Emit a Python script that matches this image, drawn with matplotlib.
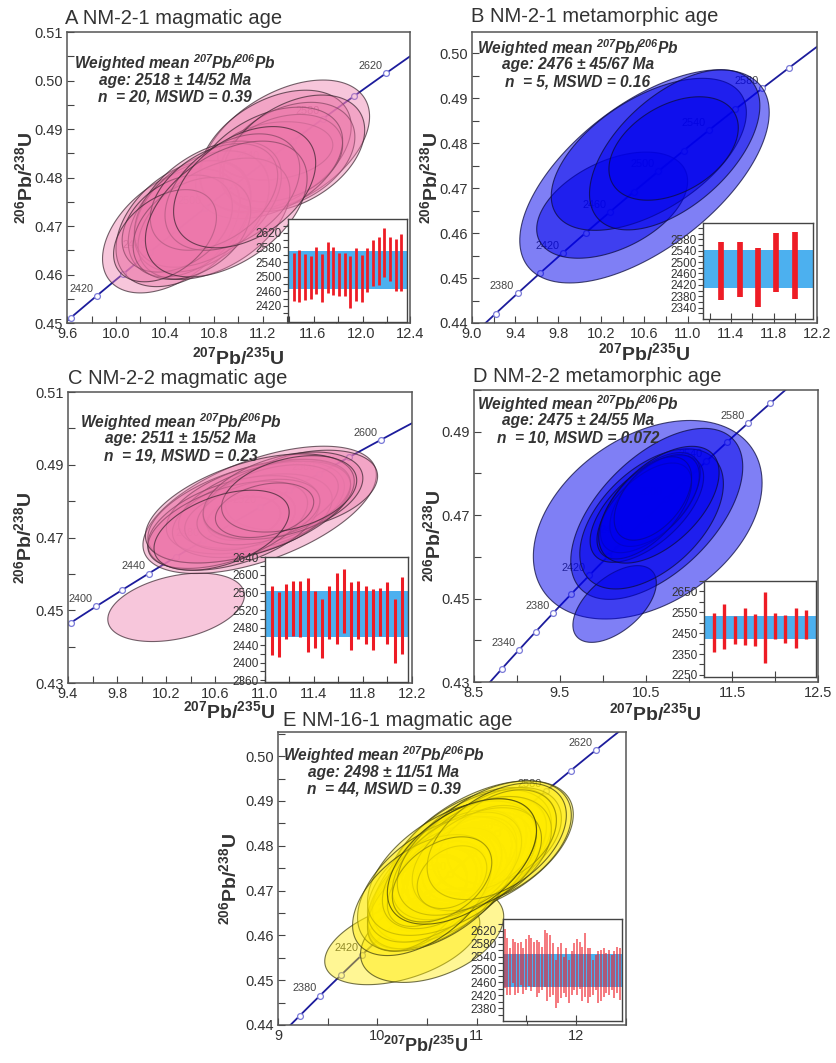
import matplotlib
matplotlib.use("Agg")
import matplotlib.pyplot as plt
import numpy as np
from matplotlib.patches import Polygon

plt.rcParams['font.family'] = ['Liberation Sans', 'DejaVu Sans']
plt.rcParams['mathtext.fontset'] = 'custom'
plt.rcParams['mathtext.rm'] = 'Liberation Sans'
plt.rcParams['mathtext.it'] = 'Liberation Sans:italic'
plt.rcParams['mathtext.bf'] = 'Liberation Sans:bold'
plt.rcParams['mathtext.bfit'] = 'Liberation Sans:italic:bold'

# decay constants (1/yr)
L235 = 9.8485e-10
L238 = 1.55125e-10

# ---- panel A: NM-2-1 magmatic ----
a_cx = [11.38, 11.30, 11.40, 11.30, 11.35, 11.25, 11.45, 10.45, 10.55, 10.60,
        10.70, 10.75, 10.80, 10.50, 10.62, 10.80, 10.95, 10.40, 10.90, 11.05]
a_cy = [0.4864, 0.4855, 0.4845, 0.4855, 0.4840, 0.4830, 0.4850, 0.4690, 0.4705, 0.4715,
        0.4730, 0.4745, 0.4715, 0.4705, 0.4695, 0.4760, 0.4770, 0.4680, 0.4735, 0.4780]
a_hx = [0.69, 0.62, 0.55, 0.47, 0.50, 0.60, 0.58, 0.56, 0.55, 0.50,
        0.55, 0.60, 0.62, 0.45, 0.48, 0.52, 0.55, 0.42, 0.66, 0.58]
a_hy = [0.0137, 0.0125, 0.0110, 0.0060, 0.0090, 0.0115, 0.0120, 0.0128, 0.0130, 0.0120,
        0.0125, 0.0130, 0.0125, 0.0100, 0.0105, 0.0110, 0.0120, 0.0095, 0.0140, 0.0125]
a_rho = [0.45, 0.40, 0.35, 0.20, 0.30, 0.40, 0.40, 0.45, 0.40, 0.40,
         0.40, 0.45, 0.45, 0.35, 0.35, 0.40, 0.40, 0.40, 0.45, 0.40]
a_hi = [2564, 2574, 2563, 2556, 2581, 2562, 2594, 2580, 2564, 2564,
        2556, 2578, 2560, 2578, 2600, 2608, 2633, 2608, 2604, 2617]
a_lo = [2434, 2430, 2435, 2438, 2453, 2430, 2455, 2450, 2448, 2448,
        2414, 2434, 2430, 2457, 2475, 2478, 2498, 2487, 2461, 2461]

# ---- panel B: NM-2-1 metamorphic ----
b_cx = [10.60, 10.30, 10.64, 10.88, 10.87]
b_cy = [0.4726, 0.4662, 0.4775, 0.4785, 0.4788]
b_hx = [1.157, 0.70, 0.905, 0.79, 0.60]
b_hy = [0.0237, 0.0118, 0.0169, 0.0178, 0.0115]
b_rho = [0.60, 0.45, 0.55, 0.55, 0.40]
b_hi = [2569, 2569, 2548, 2602, 2605]
b_lo = [2366, 2378, 2342, 2396, 2371]

# ---- panel C: NM-2-2 magmatic ----
c_cx = [10.28, 10.96, 11.30, 10.85, 10.95, 11.00, 10.90, 10.83, 10.80, 11.05,
        10.75, 11.10, 10.95, 10.70, 11.15, 10.88, 11.00, 11.20, 10.65]
c_cy = [0.4508, 0.4776, 0.4830, 0.4770, 0.4785, 0.4790, 0.4760, 0.4752, 0.4750, 0.4800,
        0.4740, 0.4805, 0.4770, 0.4735, 0.4815, 0.4780, 0.4775, 0.4820, 0.4720]
c_hx = [0.556, 0.95, 0.62, 0.80, 0.75, 0.70, 0.65, 0.30, 0.45, 0.55,
        0.70, 0.60, 0.50, 0.65, 0.65, 0.85, 0.40, 0.55, 0.55]
c_hy = [0.0094, 0.0175, 0.0110, 0.0140, 0.0130, 0.0120, 0.0115, 0.0060, 0.0085, 0.0100,
        0.0130, 0.0110, 0.0090, 0.0120, 0.0120, 0.0150, 0.0075, 0.0105, 0.0110]
c_rho = [0.35, 0.55, 0.35, 0.50, 0.45, 0.45, 0.40, 0.25, 0.30, 0.40,
         0.45, 0.40, 0.35, 0.50, 0.40, 0.50, 0.30, 0.35, 0.45]
c_hi = [2575, 2561, 2579, 2586, 2586, 2593, 2564, 2546, 2576, 2604,
        2614, 2584, 2587, 2575, 2568, 2571, 2583, 2546, 2595]
c_lo = [2418, 2412, 2455, 2461, 2458, 2424, 2434, 2410, 2453, 2442,
        2467, 2430, 2453, 2442, 2430, 2461, 2442, 2399, 2420]

# ---- panel D: NM-2-2 metamorphic ----
d_cx = [10.52, 10.625, 10.135, 10.565, 10.51, 10.55, 10.60, 10.48, 10.58, 10.65]
d_cy = [0.4689, 0.4703, 0.4487, 0.4691, 0.4715, 0.4730, 0.4735, 0.4710, 0.4740, 0.4725]
d_hx = [1.33, 1.00, 0.485, 0.835, 0.66, 0.58, 0.52, 0.55, 0.45, 0.70]
d_hy = [0.0238, 0.0205, 0.0092, 0.0168, 0.0128, 0.0120, 0.0110, 0.0115, 0.0100, 0.0140]
d_rho = [0.37, 0.55, 0.55, 0.50, 0.60, 0.60, 0.55, 0.60, 0.50, 0.55]
d_hi = [2546, 2589, 2532, 2571, 2544, 2649, 2547, 2538, 2573, 2560]
d_lo = [2358, 2374, 2396, 2394, 2390, 2307, 2422, 2402, 2379, 2422]

# ---- panel E: NM-16-1 magmatic ----
e_cx = [10.25, 10.55, 11.05, 10.95, 10.90, 11.00, 10.80, 10.70, 10.60, 10.55,
        10.65, 10.75, 10.85, 11.10, 11.20, 10.50, 10.45, 10.70, 10.95, 11.15,
        10.60, 10.80, 10.90, 11.00, 10.40, 10.55, 10.75, 11.05, 10.85, 10.65,
        11.25, 10.50, 10.95, 10.70, 10.60, 11.10, 10.80, 10.45, 11.00, 10.90,
        10.75, 11.20, 10.65, 10.85]
e_cy = [0.4585, 0.4600, 0.4795, 0.4785, 0.4770, 0.4790, 0.4760, 0.4740, 0.4720, 0.4705,
        0.4715, 0.4735, 0.4750, 0.4800, 0.4815, 0.4690, 0.4680, 0.4725, 0.4765, 0.4805,
        0.4700, 0.4745, 0.4760, 0.4775, 0.4670, 0.4710, 0.4750, 0.4785, 0.4770, 0.4730,
        0.4820, 0.4700, 0.4780, 0.4735, 0.4715, 0.4795, 0.4755, 0.4690, 0.4770, 0.4775,
        0.4730, 0.4810, 0.4725, 0.4765]
e_hx = [0.78, 0.72, 0.92, 0.85, 0.80, 0.75, 0.70, 0.65, 0.55, 0.45,
        0.40, 0.50, 0.55, 0.60, 0.65, 0.60, 0.55, 0.75, 0.65, 0.80,
        0.70, 0.45, 0.50, 0.55, 0.50, 0.65, 0.85, 0.70, 0.60, 0.60,
        0.55, 0.40, 0.45, 0.55, 0.80, 0.50, 0.65, 0.70, 0.65, 0.70,
        0.35, 0.70, 0.50, 0.75]
e_hy = [0.0095, 0.0105, 0.0150, 0.0145, 0.0140, 0.0135, 0.0130, 0.0125, 0.0110, 0.0090,
        0.0080, 0.0100, 0.0105, 0.0110, 0.0115, 0.0120, 0.0115, 0.0140, 0.0120, 0.0140,
        0.0130, 0.0085, 0.0090, 0.0100, 0.0105, 0.0125, 0.0150, 0.0125, 0.0110, 0.0115,
        0.0105, 0.0080, 0.0085, 0.0105, 0.0150, 0.0095, 0.0120, 0.0135, 0.0115, 0.0130,
        0.0070, 0.0130, 0.0095, 0.0140]
e_rho = [0.45, 0.40, 0.50, 0.50, 0.50, 0.45, 0.50, 0.50, 0.45, 0.40,
         0.35, 0.40, 0.45, 0.40, 0.40, 0.50, 0.50, 0.50, 0.45, 0.45,
         0.50, 0.35, 0.35, 0.40, 0.50, 0.45, 0.50, 0.40, 0.40, 0.45,
         0.35, 0.40, 0.35, 0.45, 0.50, 0.35, 0.45, 0.50, 0.40, 0.45,
         0.30, 0.45, 0.40, 0.50]
e_hi = [2626, 2599, 2566, 2595, 2587, 2582, 2584, 2566, 2595, 2606,
        2597, 2587, 2592, 2587, 2571, 2624, 2613, 2608, 2582, 2530,
        2571, 2582, 2540, 2566, 2530, 2556, 2582, 2595, 2587, 2571,
        2613, 2566, 2566, 2530, 2546, 2556, 2561, 2568, 2551, 2561,
        2546, 2556, 2571, 2566]
e_lo = [2444, 2421, 2421, 2458, 2421, 2427, 2452, 2424, 2437, 2450,
        2432, 2447, 2416, 2427, 2437, 2447, 2401, 2416, 2421, 2380,
        2396, 2411, 2427, 2416, 2396, 2421, 2437, 2421, 2440, 2401,
        2416, 2396, 2416, 2421, 2437, 2396, 2401, 2416, 2427, 2421,
        2437, 2411, 2427, 2406]

W, H = 837, 1063
fig = plt.figure(figsize=(W / 100, H / 100), dpi=100)
TXT = '#333333'


def box(x0, y0, x1, y1):
    return [x0 / W, 1 - y1 / H, (x1 - x0) / W, (y1 - y0) / H]


def concordia(t):
    t = np.asarray(t, dtype=float) * 1e6
    return np.exp(L235 * t) - 1, np.exp(L238 * t) - 1


def ellipse_xy(cx, cy, hx, hy, rho, n=160):
    t = np.linspace(0, 2 * np.pi, n)
    x = cx + hx * np.cos(t)
    y = cy + hy * (rho * np.cos(t) + np.sqrt(1 - rho ** 2) * np.sin(t))
    return np.column_stack([x, y])


def main_panel(rect, title, title_dxy, xlim, ylim, xt, xm, yt, ym, xfmt,
               t_marks, t_labels, ell, face, edge, note, note_xy):
    ax = fig.add_axes(box(*rect))
    ax.set_xlim(*xlim)
    ax.set_ylim(*ylim)
    ax.set_xticks(xt)
    ax.set_xticks(xm, minor=True)
    ax.set_yticks(yt)
    ax.set_yticks(ym, minor=True)
    ax.set_xticklabels([xfmt % v for v in xt])
    ax.set_yticklabels(['%.2f' % v for v in yt])
    ax.tick_params(which='both', direction='in', length=5, width=0.8,
                   color='#444444', labelsize=10.5, labelcolor=TXT, pad=3)
    for s in ax.spines.values():
        s.set_color('#555555')
        s.set_linewidth(1.1)

    # concordia curve with age marks
    tt = np.linspace(2000, 3000, 600)
    cx, cy = concordia(tt)
    ax.plot(cx, cy, color='#1c1c9c', lw=1.3, zorder=1)
    mx, my = concordia(t_marks)
    ax.plot(mx, my, 'o', ms=4.2, mfc='white', mec='#7a7ad8', mew=0.9, zorder=2)
    for t in t_labels:
        lx, ly = concordia(t)
        ax.annotate(str(t), (lx, ly), xytext=(-2.5, 1.5), textcoords='offset points',
                    ha='right', va='bottom', fontsize=7.8, color='#444444', zorder=2)

    for cx_, cy_, hx_, hy_, r_ in zip(*ell):
        ax.add_patch(Polygon(ellipse_xy(cx_, cy_, hx_, hy_, r_), closed=True,
                             facecolor=face, edgecolor=edge, lw=0.8, zorder=3))

    dx, dy = title_dxy
    fig.text((rect[0] + dx) / W, 1 - (rect[1] - dy) / H, title, fontsize=14.5,
             color=TXT, ha='left', va='center')
    for i, line in enumerate(note):
        fig.text(note_xy[0] / W, 1 - (note_xy[1] + 17 * i) / H, line,
                 fontsize=11.2, fontweight='bold', fontstyle='italic', color=TXT,
                 ha='center', va='center')
    return ax


def inset(rect, hi, lo, mean, err, ylim, yt, ym, xlim, tick_frac, lw, red_alpha):
    ax = fig.add_axes(box(*rect))
    ax.set_facecolor('white')
    pos = np.arange(1, len(hi) + 1)
    ax.axhspan(mean - err, mean + err, color='#4cb0ef', lw=0, zorder=1)
    ax.vlines(pos, lo, hi, color='#ee1c25', lw=lw, alpha=red_alpha, zorder=2)
    ax.set_xlim(*xlim)
    ax.set_ylim(*ylim)
    ax.set_yticks(yt)
    ax.set_yticks(ym, minor=True)
    ax.set_yticklabels([str(v) for v in yt])
    f0, fs = tick_frac
    fr = np.arange(f0, 1.0, fs)
    ax.set_xticks(xlim[0] + fr * (xlim[1] - xlim[0]))
    ax.set_xticklabels([])
    ax.tick_params(axis='y', which='both', direction='out', length=3.5, width=0.8,
                   color='#444444', labelsize=8.5, labelcolor=TXT, pad=1)
    ax.tick_params(axis='x', direction='in', length=4, width=0.8, color='#444444')
    for s in ax.spines.values():
        s.set_color('#444444')
        s.set_linewidth(1.0)
    return ax


def axis_labels(ax, xl_y, yl_x, xl_x=0.5, xl_size=14):
    ax.set_xlabel(r'$^{\mathbf{207}}$Pb/$^{\mathbf{235}}$U', fontsize=xl_size,
                  fontweight='bold', color=TXT)
    ax.set_ylabel(r'$^{\mathbf{206}}$Pb/$^{\mathbf{238}}$U', fontsize=14,
                  fontweight='bold', color=TXT)
    ax.xaxis.set_label_coords(xl_x, xl_y)
    ax.yaxis.set_label_coords(yl_x, 0.5)


pink_f = (0.93, 0.47, 0.67, 0.42)
pink_e = (0.22, 0.14, 0.18, 0.70)
blue_f = (0.0, 0.0, 0.93, 0.50)
blue_e = (0.05, 0.05, 0.25, 0.75)
yel_f = (1.0, 0.92, 0.0, 0.42)
yel_e = (0.22, 0.22, 0.05, 0.70)


def note_lines(age, e1, e2, n, mswd):
    return [r'Weighted mean $^{\mathbfit{207}}$Pb/$^{\mathbfit{206}}$Pb',
            'age: %d \u00b1 %d/%d Ma' % (age, e1, e2),
            'n  = %d, MSWD = %s' % (n, mswd)]


# A
ax = main_panel((67, 32, 410, 323), 'A NM-2-1 magmatic age', (-2, 13), (9.6, 12.4), (0.45, 0.51),
                np.arange(9.6, 12.41, 0.4), np.arange(9.6, 12.41, 0.2),
                np.arange(0.45, 0.5101, 0.01), np.arange(0.45, 0.5101, 0.005), '%.1f',
                np.arange(2400, 2621, 20), [2420, 2460, 2500, 2540, 2580, 2620],
                (a_cx, a_cy, a_hx, a_hy, a_rho), pink_f, pink_e,
                note_lines(2518, 14, 52, 20, '0.39'), (175, 63))
axis_labels(ax, -0.079, -0.09)
inset((288, 219, 407, 322), a_hi, a_lo, 2518, 52, (2376, 2658),
      np.arange(2420, 2621, 40), np.arange(2400, 2651, 20), (0, 21), (0.008, 0.207),
      2.0, 1.0)

# B
ax = main_panel((472, 32, 817, 323), 'B NM-2-1 metamorphic age', (-1, 16), (9.0, 12.2), (0.44, 0.5047),
                np.arange(9.0, 12.21, 0.4), np.arange(9.0, 12.21, 0.2),
                np.arange(0.44, 0.5001, 0.01), np.arange(0.44, 0.5041, 0.005), '%.1f',
                np.arange(2360, 2601, 20), [2380, 2420, 2460, 2500, 2540, 2580],
                (b_cx, b_cy, b_hx, b_hy, b_rho), blue_f, blue_e,
                note_lines(2476, 45, 67, 5, '0.16'), (578, 48))
axis_labels(ax, -0.065, -0.09)
inset((703, 223, 813, 319), b_hi, b_lo, 2476, 67, (2300, 2637),
      np.arange(2340, 2581, 40), np.arange(2320, 2621, 20), (0, 6), (0.06, 0.195),
      4.1, 1.0)

# C
ax = main_panel((68, 392, 412, 683), 'C NM-2-2 magmatic age', (0, 14), (9.4, 12.2), (0.43, 0.51),
                np.arange(9.4, 12.21, 0.4), np.arange(9.4, 12.21, 0.2),
                np.arange(0.43, 0.5101, 0.02), np.arange(0.43, 0.5101, 0.01), '%.1f',
                np.arange(2380, 2601, 20), [2400, 2440, 2480, 2520, 2560, 2600],
                (c_cx, c_cy, c_hx, c_hy, c_rho), pink_f, pink_e,
                note_lines(2511, 15, 52, 19, '0.23'), (181, 422))
axis_labels(ax, -0.058, -0.096, xl_x=0.468)
inset((265, 557, 408, 682), c_hi, c_lo, 2511, 52, (2356, 2641),
      np.arange(2360, 2641, 40), np.arange(2360, 2641, 20), (0.1, 19.85), (0.0, 0.171),
      2.2, 1.0)

# D
ax = main_panel((474, 390, 818, 682), 'D NM-2-2 metamorphic age', (-1, 14), (8.5, 12.5), (0.43, 0.50),
                np.arange(8.5, 12.51, 1.0), np.arange(8.5, 12.51, 0.5),
                np.arange(0.43, 0.4901, 0.02), np.arange(0.43, 0.5001, 0.01), '%.1f',
                np.arange(2320, 2601, 20), [2340, 2380, 2420, 2460, 2500, 2540, 2580],
                (d_cx, d_cy, d_hx, d_hy, d_rho), blue_f, blue_e,
                note_lines(2475, 24, 55, 10, '0.072'), (578, 404))
axis_labels(ax, -0.068, -0.087, xl_x=0.526)
inset((704, 581, 816, 677), d_hi, d_lo, 2475, 55, (2240, 2700),
      np.arange(2250, 2651, 100), np.arange(2250, 2701, 50), (0, 11), (0.25, 0.385),
      2.4, 1.0)

# E
ax = main_panel((278, 732, 626, 1025), 'E NM-16-1 magmatic age', (5, 11), (9.0, 12.5), (0.44, 0.5054),
                np.arange(9.0, 12.1, 1.0), np.arange(9.0, 12.51, 0.5),
                np.arange(0.44, 0.5001, 0.01), np.arange(0.44, 0.5051, 0.005), '%g',
                np.arange(2360, 2621, 20), [2380, 2420, 2460, 2500, 2540, 2580, 2620],
                (e_cx, e_cy, e_hx, e_hy, e_rho), yel_f, yel_e,
                note_lines(2498, 11, 51, 44, '0.39'), (384, 755))
axis_labels(ax, -0.038, -0.11, xl_x=0.425, xl_size=13)
inset((503, 919, 622, 1021), e_hi, e_lo, 2498, 51, (2340, 2657),
      np.arange(2380, 2621, 40), np.arange(2360, 2651, 20), (0.36, 44.86), (0.196, 0.415),
      1.1, 0.75)

fig.savefig('out.png', dpi=100)
